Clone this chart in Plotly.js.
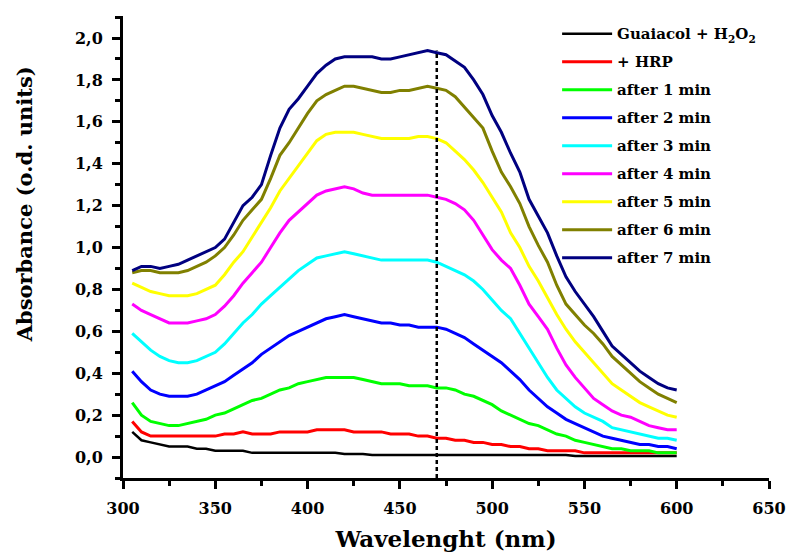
<!DOCTYPE html>
<html>
<head>
<meta charset="utf-8">
<script src="https://cdn.plot.ly/plotly-3.0.1.min.js"></script>
<style>html,body{margin:0;padding:0;background:#fff;}#chart{width:788px;height:558px;}</style>
</head>
<body>
<div id="chart"></div>
<script>
const wavelength = [305,310,315,320,325,330,335,340,345,350,355,360,365,370,375,380,385,390,395,400,405,410,415,420,425,430,435,440,445,450,455,460,465,470,475,480,485,490,495,500,505,510,515,520,525,530,535,540,545,550,555,560,565,570,575,580,585,590,595,600];

const guaiacolH2O2 = [0.12,0.08,0.07,0.06,0.05,0.05,0.05,0.04,0.04,0.03,0.03,0.03,0.03,0.02,0.02,0.02,0.02,0.02,0.02,0.02,0.02,0.02,0.02,0.015,0.015,0.015,0.01,0.01,0.01,0.01,0.01,0.01,0.01,0.01,0.01,0.01,0.01,0.01,0.01,0.01,0.01,0.01,0.01,0.01,0.01,0.01,0.01,0.01,0.005,0.005,0.005,0.005,0.005,0.005,0.005,0.005,0.005,0.005,0.005,0.005];
const plusHRP = [0.17,0.12,0.10,0.10,0.10,0.10,0.10,0.10,0.10,0.10,0.11,0.11,0.12,0.11,0.11,0.11,0.12,0.12,0.12,0.12,0.13,0.13,0.13,0.13,0.12,0.12,0.12,0.12,0.11,0.11,0.11,0.10,0.10,0.09,0.09,0.08,0.08,0.07,0.07,0.06,0.06,0.05,0.05,0.04,0.04,0.03,0.03,0.03,0.03,0.02,0.02,0.02,0.02,0.02,0.02,0.02,0.02,0.02,0.02,0.02];
const after1 = [0.26,0.20,0.17,0.16,0.15,0.15,0.16,0.17,0.18,0.20,0.21,0.23,0.25,0.27,0.28,0.30,0.32,0.33,0.35,0.36,0.37,0.38,0.38,0.38,0.38,0.37,0.36,0.35,0.35,0.35,0.34,0.34,0.34,0.33,0.33,0.32,0.30,0.29,0.27,0.25,0.22,0.20,0.18,0.16,0.15,0.13,0.11,0.10,0.08,0.07,0.06,0.05,0.04,0.04,0.03,0.03,0.03,0.02,0.02,0.02];
const after2 = [0.41,0.36,0.32,0.30,0.29,0.29,0.29,0.30,0.32,0.34,0.36,0.39,0.42,0.45,0.49,0.52,0.55,0.58,0.60,0.62,0.64,0.66,0.67,0.68,0.67,0.66,0.65,0.64,0.64,0.63,0.63,0.62,0.62,0.62,0.61,0.59,0.57,0.54,0.51,0.48,0.45,0.41,0.37,0.32,0.28,0.24,0.21,0.18,0.16,0.14,0.12,0.10,0.09,0.08,0.07,0.06,0.06,0.05,0.05,0.04];
const after3 = [0.59,0.55,0.51,0.48,0.46,0.45,0.45,0.46,0.48,0.50,0.54,0.59,0.64,0.68,0.73,0.77,0.81,0.85,0.89,0.92,0.95,0.96,0.97,0.98,0.97,0.96,0.95,0.94,0.94,0.94,0.94,0.94,0.94,0.93,0.91,0.89,0.87,0.84,0.80,0.75,0.70,0.66,0.59,0.52,0.45,0.38,0.32,0.28,0.24,0.21,0.19,0.17,0.14,0.13,0.12,0.11,0.10,0.09,0.09,0.08];
const after4 = [0.73,0.70,0.68,0.66,0.64,0.64,0.64,0.65,0.66,0.68,0.72,0.77,0.83,0.88,0.93,1.00,1.07,1.13,1.17,1.21,1.25,1.27,1.28,1.29,1.28,1.26,1.25,1.25,1.25,1.25,1.25,1.25,1.25,1.24,1.23,1.21,1.18,1.13,1.06,0.99,0.94,0.90,0.82,0.73,0.67,0.61,0.52,0.44,0.38,0.33,0.28,0.25,0.22,0.20,0.19,0.17,0.15,0.14,0.13,0.13];
const after5 = [0.83,0.81,0.79,0.78,0.77,0.77,0.77,0.78,0.80,0.82,0.87,0.93,0.98,1.05,1.12,1.19,1.27,1.33,1.39,1.45,1.51,1.54,1.55,1.55,1.55,1.54,1.53,1.52,1.52,1.52,1.52,1.53,1.53,1.52,1.50,1.46,1.42,1.37,1.31,1.24,1.17,1.07,1.00,0.91,0.84,0.76,0.68,0.61,0.55,0.50,0.45,0.40,0.35,0.32,0.29,0.26,0.24,0.22,0.20,0.19];
const after6 = [0.88,0.89,0.89,0.88,0.88,0.88,0.89,0.91,0.93,0.96,1.00,1.06,1.13,1.18,1.23,1.33,1.44,1.50,1.57,1.64,1.70,1.73,1.75,1.77,1.77,1.76,1.75,1.74,1.74,1.75,1.75,1.76,1.77,1.76,1.75,1.72,1.67,1.62,1.57,1.46,1.36,1.29,1.21,1.10,1.01,0.93,0.82,0.73,0.68,0.63,0.59,0.54,0.48,0.44,0.40,0.36,0.33,0.30,0.28,0.26];
const after7 = [0.89,0.91,0.91,0.90,0.91,0.92,0.94,0.96,0.98,1.00,1.04,1.12,1.20,1.24,1.30,1.44,1.57,1.66,1.71,1.77,1.83,1.87,1.90,1.91,1.91,1.91,1.91,1.90,1.90,1.91,1.92,1.93,1.94,1.93,1.92,1.89,1.86,1.80,1.73,1.63,1.55,1.45,1.36,1.23,1.15,1.07,0.96,0.86,0.79,0.73,0.67,0.60,0.53,0.49,0.45,0.41,0.38,0.35,0.33,0.32];

const seriesNames = ['Guaiacol + H<sub>2</sub>O<sub>2</sub>','+ HRP','after 1 min','after 2 min','after 3 min','after 4 min','after 5 min','after 6 min','after 7 min'];
const seriesColors = ['#000000','#ff0000','#00ff00','#0000ff','#00ffff','#ff00ff','#ffff00','#808000','#000080'];
const seriesValues = [guaiacolH2O2, plusHRP, after1, after2, after3, after4, after5, after6, after7];

const markerWavelength = 470;
const markerTop = 1.94;

const xTickVals = [300,350,400,450,500,550,600,650];
const xTickText = ['300','350','400','450','500','550','600','650'];
const yTickVals = [0,0.2,0.4,0.6,0.8,1.0,1.2,1.4,1.6,1.8,2.0];
const yTickText = ['0,0','0,2','0,4','0,6','0,8','1,0','1,2','1,4','1,6','1,8','2,0'];
const xTitle = 'Wavelenght (nm)';
const yTitle = 'Absorbance (o.d. units)';

const traces = seriesValues.map((vals, i) => ({
  x: wavelength,
  y: vals,
  type: 'scatter',
  mode: 'lines',
  name: seriesNames[i],
  legendgroup: 'g' + i,
  line: {color: seriesColors[i], width: i === 0 ? 2.5 : 3}
}));

const fontFam = 'DejaVu Serif, serif';

const layout = {
  width: 788,
  height: 558,
  margin: {l: 123, r: 19, t: 16, b: 80},
  paper_bgcolor: '#ffffff',
  plot_bgcolor: '#ffffff',
  showlegend: true,
  legend: {
    x: 0.672, y: 0.997, xanchor: 'left', yanchor: 'top',
    bgcolor: 'rgba(0,0,0,0)', borderwidth: 0,
    font: {family: fontFam, size: 15, color: '#000', weight: 'bold'},
    tracegroupgap: 5.5,
    itemwidth: 50
  },
  xaxis: {
    range: [300, 650],
    tickmode: 'array', tickvals: xTickVals, ticktext: xTickText,
    ticks: 'outside', ticklen: 8, tickwidth: 3, tickcolor: '#000',
    ticklabelstandoff: 6,
    minor: {tick0: 300, dtick: 25, ticks: 'outside', ticklen: 5, tickwidth: 3, tickcolor: '#000'},
    showline: true, linecolor: '#000', linewidth: 3,
    showgrid: false, zeroline: false,
    tickfont: {family: fontFam, size: 16, color: '#000', weight: 'bold'},
    title: {text: xTitle, font: {family: fontFam, size: 23, color: '#000', weight: 'bold'}, standoff: 14}
  },
  yaxis: {
    range: [-0.1, 2.105],
    tickmode: 'array', tickvals: yTickVals, ticktext: yTickText,
    ticks: 'outside', ticklen: 8, tickwidth: 3, tickcolor: '#000',
    ticklabelstandoff: 6,
    minor: {tick0: 0, dtick: 0.1, ticks: 'outside', ticklen: 5, tickwidth: 3, tickcolor: '#000'},
    showline: true, linecolor: '#000', linewidth: 3,
    showgrid: false, zeroline: false,
    tickfont: {family: fontFam, size: 16, color: '#000', weight: 'bold'}
  },
  annotations: [{
    text: yTitle, xref: 'paper', yref: 'paper',
    x: -0.152, y: 0.592, xanchor: 'center', yanchor: 'middle',
    textangle: -90, showarrow: false,
    font: {family: fontFam, size: 21, color: '#000', weight: 'bold'}
  }],
  shapes: [{
    type: 'line', xref: 'x', yref: 'y',
    x0: markerWavelength, x1: markerWavelength, y0: -0.1, y1: markerTop,
    line: {color: '#000', width: 2.5, dash: '4px,3px'}
  }]
};

Plotly.newPlot('chart', traces, layout, {displayModeBar: false, staticPlot: true});
</script>
</body>
</html>
